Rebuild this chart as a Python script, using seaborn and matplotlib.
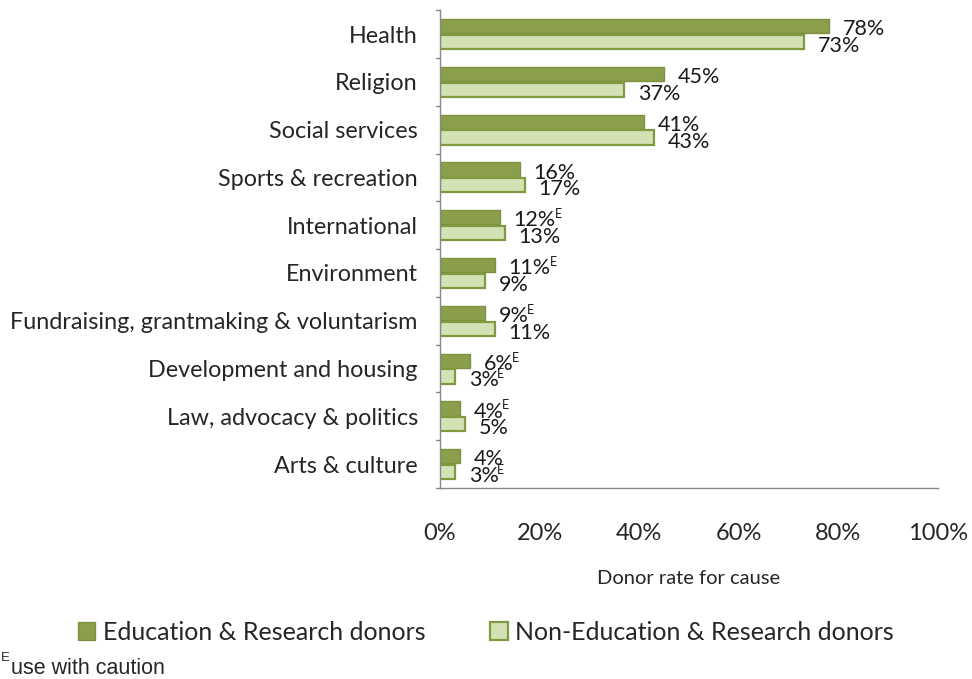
import matplotlib
matplotlib.use("Agg")
import matplotlib.pyplot as plt
import seaborn as sns
import pandas as pd
from matplotlib.patches import Patch

causes = ["Health", "Religion", "Social services", "Sports & recreation",
          "International", "Environment",
          "Fundraising, grantmaking & voluntarism",
          "Development and housing", "Law, advocacy & politics",
          "Arts & culture"]
edu_donors = [78, 45, 41, 16, 12, 11, 9, 6, 4, 4]
non_edu_donors = [73, 37, 43, 17, 13, 9, 11, 3, 5, 3]
# estimates flagged "use with caution"
edu_caution = [False, False, False, False, True, True, True, True, True, False]
non_edu_caution = [False, False, False, False, False, False, False, True, False, True]

series_names = ["Education & Research donors", "Non-Education & Research donors"]
xticks = [0, 20, 40, 60, 80, 100]

df = pd.DataFrame({
    "cause": causes * 2,
    "rate": edu_donors + non_edu_donors,
    "group": [series_names[0]] * len(causes) + [series_names[1]] * len(causes),
})

sns.set_style("white")
plt.rcParams["font.family"] = ["Lato", "DejaVu Sans"]

dark_fill, dark_edge = "#8a9e4b", "#7d9240"
light_fill, light_edge = "#d3e1b5", "#7f9a3f"

fig = plt.figure(figsize=(9.72, 6.79), dpi=100)
ax = fig.add_axes([0.4527, 0.2813, 0.5124, 0.7037])

sns.barplot(data=df, y="cause", x="rate", hue="group", orient="h",
            palette=[dark_fill, light_fill], saturation=1, width=0.66, gap=0.1,
            ax=ax, legend=False)

n = len(causes)
for i, patch in enumerate(ax.patches[:2 * n]):
    if i < n:
        patch.set_edgecolor(dark_edge)
        patch.set_linewidth(1.0)
    else:
        patch.set_edgecolor(light_edge)
        patch.set_linewidth(1.6)

ax.set_xlim(0, 100)
ax.set_ylim(n - 0.5, -0.5)
ax.set_xticks(xticks)
ax.set_xticklabels([f"{t}%" for t in xticks], fontsize=17)
ax.tick_params(axis="x", direction="out", length=7, width=1, color="#888888", pad=18)
ax.set_yticks(range(n))
ax.set_yticklabels(causes, fontsize=16.8)
ax.tick_params(axis="y", length=0, pad=16)
# category separators on the value axis
for b in [k - 0.5 for k in range(n + 1)]:
    ax.plot([-0.008, 0], [b, b], transform=ax.get_yaxis_transform(),
            color="#888888", lw=1, clip_on=False)

ax.set_xlabel("Donor rate for cause", fontsize=14.5, labelpad=19)
ax.set_ylabel("")
for s in ["top", "right"]:
    ax.spines[s].set_visible(False)
for s in ["left", "bottom"]:
    ax.spines[s].set_color("#888888")
    ax.spines[s].set_linewidth(1.0)

# value labels
offset = 0.2
for i in range(n):
    for vals, flags, dy in [(edu_donors, edu_caution, -offset + 0.1),
                            (non_edu_donors, non_edu_caution, offset + 0.05)]:
        v = vals[i]
        t = ax.annotate(f"{v}%", xy=(v, i + dy), xytext=(10, 0),
                        textcoords="offset points", va="center", ha="left",
                        fontsize=15.5, color="#1a1a1a")
        if flags[i]:
            ax.annotate("E", xy=(1, 1), xycoords=t, xytext=(-1, 1.5),
                        textcoords="offset points", va="top", ha="left",
                        fontsize=9, color="#1a1a1a")

handles = [Patch(facecolor=dark_fill, edgecolor=dark_edge, lw=1.0),
           Patch(facecolor=light_fill, edgecolor=light_edge, lw=1.6)]
fig.legend(handles, series_names, loc="center", bbox_to_anchor=(0.5, 0.069),
           ncol=2, frameon=False, fontsize=18, handlelength=0.7,
           handleheight=0.7, handletextpad=0.3, columnspacing=2.6)

fig.text(0.001, 0.022, "E", fontsize=9.5, family="Liberation Sans",
         va="bottom", ha="left")
fig.text(0.011, 0.0, "use with caution", fontsize=15.5, family="Liberation Sans",
         va="bottom", ha="left")

fig.savefig("out.png", dpi=100)
